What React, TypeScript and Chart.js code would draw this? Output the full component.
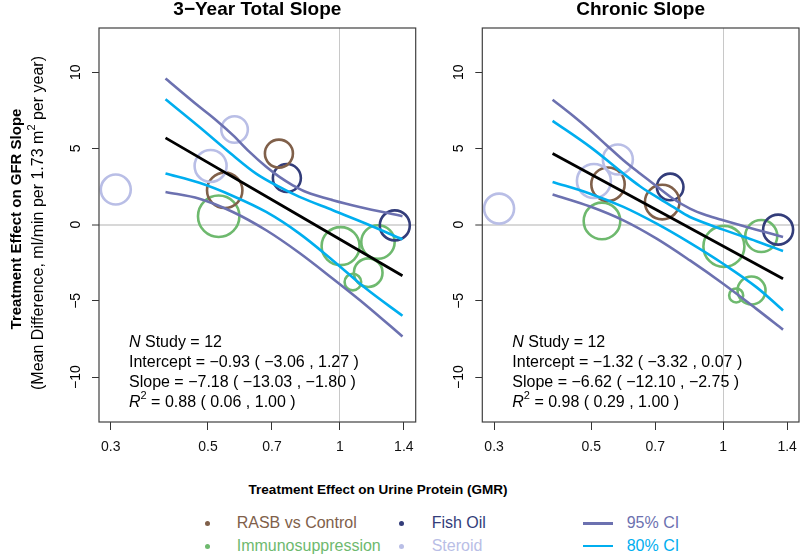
import React, { useEffect, useRef } from "react";
import { Chart, registerables } from "chart.js";

Chart.register(...registerables);

const FONT = "'Liberation Sans', Arial, Helvetica, sans-serif";

// ---------- colours ----------
const GROUP_COLORS: Record<string, string> = {
  "RASB vs Control": "#80604A",
  "Immunosuppression": "#6EB96E",
  "Fish Oil": "#333D7A",
  "Steroid": "#B9BEE6",
};
const CI95_COLOR = "#6C71B0";
const CI80_COLOR = "#00AEEF";

// ---------- axis ticks ----------
const xTicks = [0.3, 0.5, 0.7, 1, 1.4];
const yTicks = [-10, -5, 0, 5, 10];

// ---------- study data (12 studies) ----------
const studyGroups = [
  "Steroid", "Steroid", "Steroid",
  "RASB vs Control", "RASB vs Control",
  "Fish Oil", "Fish Oil",
  "Immunosuppression", "Immunosuppression", "Immunosuppression", "Immunosuppression", "Immunosuppression",
];
const studyGMR = [0.308, 0.575, 0.507, 0.546, 0.726, 0.757, 1.335, 0.529, 1.004, 1.222, 1.161, 1.071];

// 3-year total slope: effect and bubble size (study weight)
const totalEffect = [2.3, 6.24, 3.85, 2.25, 4.66, 3.06, -0.05, 0.55, -1.41, -1.14, -3.15, -3.77];
const totalWeight = [15, 13.3, 16, 17.7, 14, 14, 15, 20.7, 19, 16.7, 14.3, 8.3];

// chronic slope: effect and bubble size (study weight)
const chronicEffect = [1.05, 4.27, 2.86, 2.65, 1.48, 2.47, -0.33, 0.24, -1.43, -0.75, -4.32, -4.65];
const chronicWeight = [15, 15, 17, 16.7, 17.3, 13.3, 15, 18.3, 20.5, 16, 14, 7];

// ---------- 3-year total slope: fit line and bands ----------
const totalFitX = [0.4, 1.39];
const totalFitY = [5.69, -3.35];
const totalU95X = [0.4, 0.478, 0.522, 0.57, 0.622, 0.679, 0.728, 0.781, 0.838, 0.964, 1.109, 1.39];
const totalU95Y = [9.59, 7.73, 6.85, 5.87, 4.77, 3.79, 3.13, 2.58, 2.14, 1.6, 1.16, 0.55];
const totalU80X = [0.4, 0.478, 0.57, 0.644, 0.728, 0.809, 0.964, 1.149, 1.39];
const totalU80Y = [8.23, 6.41, 4.55, 3.35, 2.47, 1.82, 0.94, 0.06, -0.97];
const totalL80X = [0.4, 0.478, 0.57, 0.679, 0.809, 0.964, 1.149, 1.39];
const totalL80Y = [3.35, 2.74, 1.88, 0.83, -0.59, -2.35, -4.21, -5.98];
const totalL95X = [0.4, 0.478, 0.57, 0.679, 0.809, 0.964, 1.149, 1.39];
const totalL95Y = [2.14, 1.7, 0.83, -0.37, -1.86, -3.55, -5.3, -7.34];

// ---------- chronic slope: fit line and bands ----------
const chronicFitX = [0.408, 1.37];
const chronicFitY = [4.67, -3.55];
const chronicU95X = [0.408, 0.455, 0.497, 0.542, 0.592, 0.646, 0.705, 0.769, 0.84, 0.916, 1.0, 1.191, 1.37];
const chronicU95Y = [8.19, 7.12, 6.19, 5.21, 4.22, 3.35, 2.52, 1.7, 1.05, 0.61, 0.28, -0.33, -0.81];
const chronicU80X = [0.408, 0.497, 0.592, 0.646, 0.705, 0.769, 0.84, 1.0, 1.191, 1.37];
const chronicU80Y = [6.81, 5.1, 3.35, 2.52, 1.82, 1.16, 0.5, -0.33, -1.09, -1.73];
const chronicL80X = [0.408, 0.497, 0.592, 0.705, 0.84, 1.0, 1.191, 1.37];
const chronicL80Y = [2.8, 2.03, 1.16, 0.06, -1.2, -2.57, -4.1, -5.63];
const chronicL95X = [0.408, 0.497, 0.592, 0.705, 0.84, 1.0, 1.191, 1.37];
const chronicL95Y = [1.98, 1.19, 0.28, -0.92, -2.35, -3.88, -5.53, -6.89];

// ---------- texts ----------
type Part = { t: string; italic?: boolean; sup?: boolean };
const totalNotes: Part[][] = [
  [{ t: "N", italic: true }, { t: " Study = 12" }],
  [{ t: "Intercept = \u22120.93 ( \u22123.06 , 1.27 )" }],
  [{ t: "Slope = \u22127.18 ( \u221213.03 , \u22121.80 )" }],
  [{ t: "R", italic: true }, { t: "2", sup: true }, { t: " = 0.88 ( 0.06 , 1.00 )" }],
];
const chronicNotes: Part[][] = [
  [{ t: "N", italic: true }, { t: " Study = 12" }],
  [{ t: "Intercept = \u22121.32 ( \u22123.32 , 0.07 )" }],
  [{ t: "Slope = \u22126.62 ( \u221212.10 , \u22122.75 )" }],
  [{ t: "R", italic: true }, { t: "2", sup: true }, { t: " = 0.98 ( 0.29 , 1.00 )" }],
];
const yTitle = "Treatment Effect on GFR Slope";
const ySubtitle: Part[] = [
  { t: "(Mean Difference, ml/min per 1.73 m" },
  { t: "2", sup: true },
  { t: " per year)" },
];
const xTitle = "Treatment Effect on Urine Protein (GMR)";
const legendGroups = [
  ["RASB vs Control", "Fish Oil"],
  ["Immunosuppression", "Steroid"],
];
const legendCI = [
  { label: "95% CI", color: CI95_COLOR },
  { label: "80% CI", color: CI80_COLOR },
];

const fmtNum = (v: number) => (v < 0 ? "\u2212" + Math.abs(v) : String(v));

function drawRich(ctx: CanvasRenderingContext2D, parts: Part[], x: number, y: number, size: number, weight: string, align: "left" | "center") {
  const fontFor = (p: Part) =>
    `${p.italic ? "italic " : ""}${weight} ${p.sup ? Math.round(size * 0.7) : size}px ${FONT}`;
  let total = 0;
  const widths = parts.map((p) => {
    ctx.font = fontFor(p);
    const w = ctx.measureText(p.t).width;
    total += w;
    return w;
  });
  let cx = align === "center" ? x - total / 2 : x;
  ctx.textAlign = "left";
  ctx.textBaseline = "middle";
  parts.forEach((p, i) => {
    ctx.font = fontFor(p);
    ctx.fillText(p.t, cx, p.sup ? y - size * 0.4 : y);
    cx += widths[i];
  });
}

interface PanelSpec {
  title: string;
  effect: number[];
  weight: number[];
  fit: [number[], number[]];
  u95: [number[], number[]];
  u80: [number[], number[]];
  l80: [number[], number[]];
  l95: [number[], number[]];
  notes: Part[][];
  yAxisWidth: number;
  padRight: number;
  showYTitle: boolean;
}

function lineDs(xy: [number[], number[]], color: string, width: number) {
  return {
    type: "scatter" as const,
    data: xy[0].map((x, i) => ({ x, y: xy[1][i] })),
    showLine: true,
    borderColor: color,
    backgroundColor: color,
    borderWidth: width,
    pointRadius: 0,
    tension: 0.35,
    fill: false,
    order: 0,
  };
}

function groupDs(group: string, ys: number[], sizes: number[]) {
  const idx = studyGroups.map((g, i) => (g === group ? i : -1)).filter((i) => i >= 0);
  return {
    type: "scatter" as const,
    data: idx.map((i) => ({ x: studyGMR[i], y: ys[i] })),
    pointRadius: idx.map((i) => sizes[i]),
    pointBorderColor: GROUP_COLORS[group],
    pointBackgroundColor: "rgba(0,0,0,0)",
    pointBorderWidth: 2.6,
    showLine: false,
    order: 1,
  };
}

function makeChart(canvas: HTMLCanvasElement, spec: PanelSpec) {
  const groups = ["Steroid", "RASB vs Control", "Fish Oil", "Immunosuppression"];
  const datasets: any[] = [
    lineDs(spec.fit, "#000000", 2.8),
    lineDs(spec.u80, CI80_COLOR, 2.6),
    lineDs(spec.l80, CI80_COLOR, 2.6),
    lineDs(spec.u95, CI95_COLOR, 2.6),
    lineDs(spec.l95, CI95_COLOR, 2.6),
    ...groups.map((g) => groupDs(g, spec.effect, spec.weight)),
  ];

  const decor = {
    id: "panelDecor",
    afterDraw(chart: any) {
      const { ctx, chartArea: a, scales } = chart;
      ctx.save();
      ctx.strokeStyle = "#404040";
      ctx.lineWidth = 1.2;
      ctx.strokeRect(a.left, a.top, a.right - a.left, a.bottom - a.top);

      ctx.fillStyle = "#000";
      ctx.font = `bold 19px ${FONT}`;
      ctx.textAlign = "center";
      ctx.textBaseline = "middle";
      ctx.fillText(spec.title, (a.left + a.right) / 2, 10);

      const ys = scales.y;
      ctx.font = `14px ${FONT}`;
      ys.ticks.forEach((t: any) => {
        const py = ys.getPixelForValue(t.value);
        ctx.save();
        ctx.translate(a.left - 23, py);
        ctx.rotate(-Math.PI / 2);
        ctx.textAlign = "center";
        ctx.textBaseline = "middle";
        ctx.fillText(fmtNum(t.value), 0, 0);
        ctx.restore();
      });

      spec.notes.forEach((line, i) => {
        drawRich(ctx, line, a.left + 30, 342.7 + i * 20, 16, "normal", "left");
      });

      if (spec.showYTitle) {
        ctx.save();
        ctx.translate(16.7, 219);
        ctx.rotate(-Math.PI / 2);
        drawRich(ctx, [{ t: yTitle }], 0, 0, 15, "bold", "center");
        ctx.restore();
        ctx.save();
        ctx.translate(38.5, 223);
        ctx.rotate(-Math.PI / 2);
        drawRich(ctx, ySubtitle, 0, 0, 16, "normal", "center");
        ctx.restore();
      }
      ctx.restore();
    },
  };

  return new Chart(canvas, {
    type: "scatter",
    data: { datasets },
    plugins: [decor],
    options: {
      responsive: false,
      animation: false,
      events: [],
      layout: { autoPadding: false, padding: { left: 0, right: spec.padRight, top: 28, bottom: 0 } },
      plugins: {
        legend: { display: false },
        tooltip: { enabled: false },
        title: { display: false },
      },
      scales: {
        x: {
          type: "logarithmic",
          min: 0.282,
          max: 1.49,
          afterBuildTicks: (s: any) => {
            s.ticks = xTicks.map((v) => ({ value: v }));
          },
          afterFit: (s: any) => {
            s.height = 48;
            s.paddingLeft = 0;
            s.paddingRight = 0;
          },
          border: { display: false },
          grid: {
            color: (c: any) => (c.tick && c.tick.value === 1 ? "#C8C8C8" : "rgba(0,0,0,0)"),
            lineWidth: 1,
            drawTicks: true,
            tickLength: 8,
            tickColor: "#333",
            tickWidth: 1,
          },
          ticks: {
            autoSkip: false,
            maxRotation: 0,
            minRotation: 0,
            padding: 9,
            color: "#111",
            font: { family: FONT, size: 14 },
            callback: (v: any) => String(v),
          },
        },
        y: {
          type: "linear",
          min: -12.95,
          max: 12.9,
          afterBuildTicks: (s: any) => {
            s.ticks = yTicks.map((v) => ({ value: v }));
          },
          afterFit: (s: any) => {
            s.width = spec.yAxisWidth;
            s.paddingTop = 0;
            s.paddingBottom = 0;
          },
          border: { display: false },
          grid: {
            color: (c: any) => (c.tick && c.tick.value === 0 ? "#D8D8D8" : "rgba(0,0,0,0)"),
            lineWidth: (c: any) => (c.tick && c.tick.value === 0 ? 2 : 1),
            drawTicks: true,
            tickLength: 7,
            tickColor: "#333",
            tickWidth: 1,
          },
          ticks: { display: false },
        },
      },
    } as any,
  });
}

export default function App() {
  const leftRef = useRef<HTMLCanvasElement>(null);
  const rightRef = useRef<HTMLCanvasElement>(null);

  useEffect(() => {
    const left = makeChart(leftRef.current!, {
      title: "3\u2212Year Total Slope",
      effect: totalEffect,
      weight: totalWeight,
      fit: [totalFitX, totalFitY],
      u95: [totalU95X, totalU95Y],
      u80: [totalU80X, totalU80Y],
      l80: [totalL80X, totalL80Y],
      l95: [totalL95X, totalL95Y],
      notes: totalNotes,
      yAxisWidth: 99,
      padRight: 4.3,
      showYTitle: true,
    });
    const right = makeChart(rightRef.current!, {
      title: "Chronic Slope",
      effect: chronicEffect,
      weight: chronicWeight,
      fit: [chronicFitX, chronicFitY],
      u95: [chronicU95X, chronicU95Y],
      u80: [chronicU80X, chronicU80Y],
      l80: [chronicL80X, chronicL80Y],
      l95: [chronicL95X, chronicL95Y],
      notes: chronicNotes,
      yAxisWidth: 82.3,
      padRight: 1,
      showYTitle: false,
    });
    return () => {
      left.destroy();
      right.destroy();
    };
  }, []);

  const rowY = [523.3, 546];
  const dotX = [207.7, 401.7];
  const textX = [236.7, 431.7];

  return (
    <div
      style={{
        position: "absolute",
        left: 0,
        top: 0,
        width: 800,
        height: 556,
        background: "#fff",
        fontFamily: FONT,
        overflow: "hidden",
      }}
    >
      <canvas ref={leftRef} width={420} height={470} style={{ position: "absolute", left: 0, top: 0 }} />
      <canvas ref={rightRef} width={400} height={470} style={{ position: "absolute", left: 400, top: 0 }} />
      <div
        style={{
          position: "absolute",
          left: 378 - 200,
          top: 481,
          width: 400,
          textAlign: "center",
          fontWeight: "bold",
          fontSize: 13.5,
          lineHeight: "18px",
          color: "#000",
          whiteSpace: "nowrap",
        }}
      >
        {xTitle}
      </div>
      {legendGroups.map((row, r) =>
        row.map((g, c) => (
          <React.Fragment key={g}>
            <div
              style={{
                position: "absolute",
                left: dotX[c] - 2.5,
                top: rowY[r] - 2.5,
                width: 5,
                height: 5,
                borderRadius: "50%",
                background: GROUP_COLORS[g],
              }}
            />
            <div
              style={{
                position: "absolute",
                left: textX[c],
                top: rowY[r] - 10,
                fontSize: 16,
                lineHeight: "20px",
                color: GROUP_COLORS[g],
                whiteSpace: "nowrap",
              }}
            >
              {g}
            </div>
          </React.Fragment>
        ))
      )}
      {legendCI.map((item, r) => (
        <React.Fragment key={item.label}>
          <div
            style={{
              position: "absolute",
              left: 583.3,
              top: rowY[r] - 1.3,
              width: 30,
              height: 2.6,
              background: item.color,
            }}
          />
          <div
            style={{
              position: "absolute",
              left: 626.7,
              top: rowY[r] - 10,
              fontSize: 16,
              lineHeight: "20px",
              color: item.color,
              whiteSpace: "nowrap",
            }}
          >
            {item.label}
          </div>
        </React.Fragment>
      ))}
    </div>
  );
}
